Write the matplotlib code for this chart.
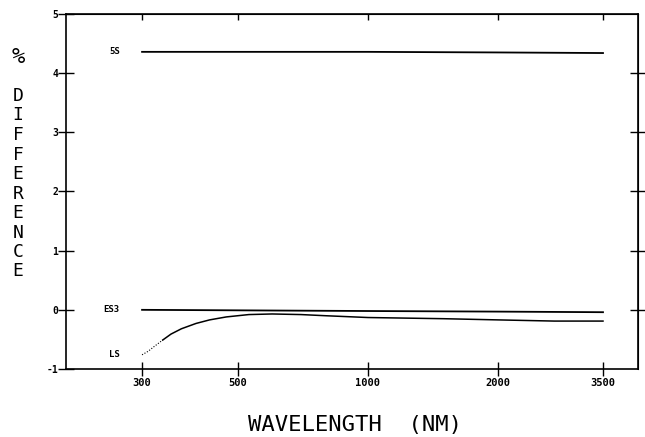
import matplotlib
matplotlib.use("Agg")
import matplotlib.pyplot as plt
from matplotlib.ticker import FixedLocator, NullLocator

# % difference vs wavelength
wl_5s = [300, 500, 1000, 2000, 3500]
val_5s = [4.36, 4.36, 4.36, 4.35, 4.34]

wl_es3 = [300, 1000, 2000, 3500]
val_es3 = [0.0, -0.02, -0.03, -0.04]

wl_ls = [300, 310, 320, 335, 350, 370, 400, 430, 470, 530, 600, 700, 800,
         1000, 1500, 2000, 2700, 3500]
val_ls = [-0.76, -0.70, -0.62, -0.51, -0.41, -0.32, -0.23, -0.17, -0.12,
          -0.08, -0.07, -0.08, -0.10, -0.13, -0.15, -0.17, -0.19, -0.19]
n_dotted = 4  # first points are drawn faint/dotted in the reference

xticks = [300, 500, 1000, 2000, 3500]
yticks = [-1, 0, 1, 2, 3, 4, 5]
ylab_chars = ["%", "", "D", "I", "F", "F", "E", "R", "E", "N", "C", "E"]

mono = "DejaVu Sans Mono"

fig = plt.figure(figsize=(6.45, 4.37), dpi=100)
ax = fig.add_axes([0.1023, 0.1556, 0.887, 0.8124])

ax.set_xscale("log")
ax.set_xlim(200, 4220)
ax.set_ylim(-1, 5)

# curves
ax.plot(wl_5s, val_5s, color="black", lw=1.3)
ax.plot(wl_es3, val_es3, color="black", lw=1.3)
ax.plot(wl_ls[:n_dotted], val_ls[:n_dotted], color="black", lw=0.8,
        ls=(0, (1, 1.5)))
ax.plot(wl_ls[n_dotted - 1:], val_ls[n_dotted - 1:], color="black", lw=1.1)

for name, wl, vals in [("5S", wl_5s, val_5s), ("ES3", wl_es3, val_es3),
                       ("LS", wl_ls, val_ls)]:
    ax.annotate(name, xy=(wl[0], vals[0]), xytext=(-16, 0),
                textcoords="offset points", ha="right", va="center",
                family=mono, fontsize=6.5, fontweight="bold")

# axes frame and ticks
for sp in ax.spines.values():
    sp.set_linewidth(1.2)
    sp.set_color("black")

ax.xaxis.set_major_locator(FixedLocator(xticks))
ax.xaxis.set_minor_locator(NullLocator())
ax.set_xticklabels([str(t) for t in xticks], family=mono, fontsize=7.5,
                   fontweight="bold")
ax.set_yticks(yticks)
ax.set_yticklabels([str(t) for t in yticks], family=mono, fontsize=7,
                   fontweight="bold")
ax.tick_params(axis="x", which="major", direction="inout", length=9.5,
               width=1, pad=2, top=False)
ax.tick_params(axis="y", which="major", direction="inout", length=11,
               width=1, pad=0, right=False)

# top ticks point inward, right ticks cross the frame
axt = ax.secondary_xaxis("top")
axt.xaxis.set_major_locator(FixedLocator(xticks))
axt.xaxis.set_minor_locator(NullLocator())
axt.tick_params(direction="in", length=4.5, width=1, labeltop=False)
axr = ax.secondary_yaxis("right")
axr.set_yticks(yticks[1:-1])
axr.tick_params(direction="inout", length=11, width=1, labelright=False)

fig.text(355 / 645, 1 - 425 / 437, "WAVELENGTH  (NM)", family=mono,
         fontsize=16, ha="center", va="center")

# stacked vertical y label
for i, ch in enumerate(ylab_chars):
    if ch:
        fig.text(18 / 645, 1 - (57 + i * 19.5) / 437, ch, family=mono,
                 fontsize=16 if ch == "%" else 13, ha="center", va="center")

fig.savefig("out.png", dpi=100)
